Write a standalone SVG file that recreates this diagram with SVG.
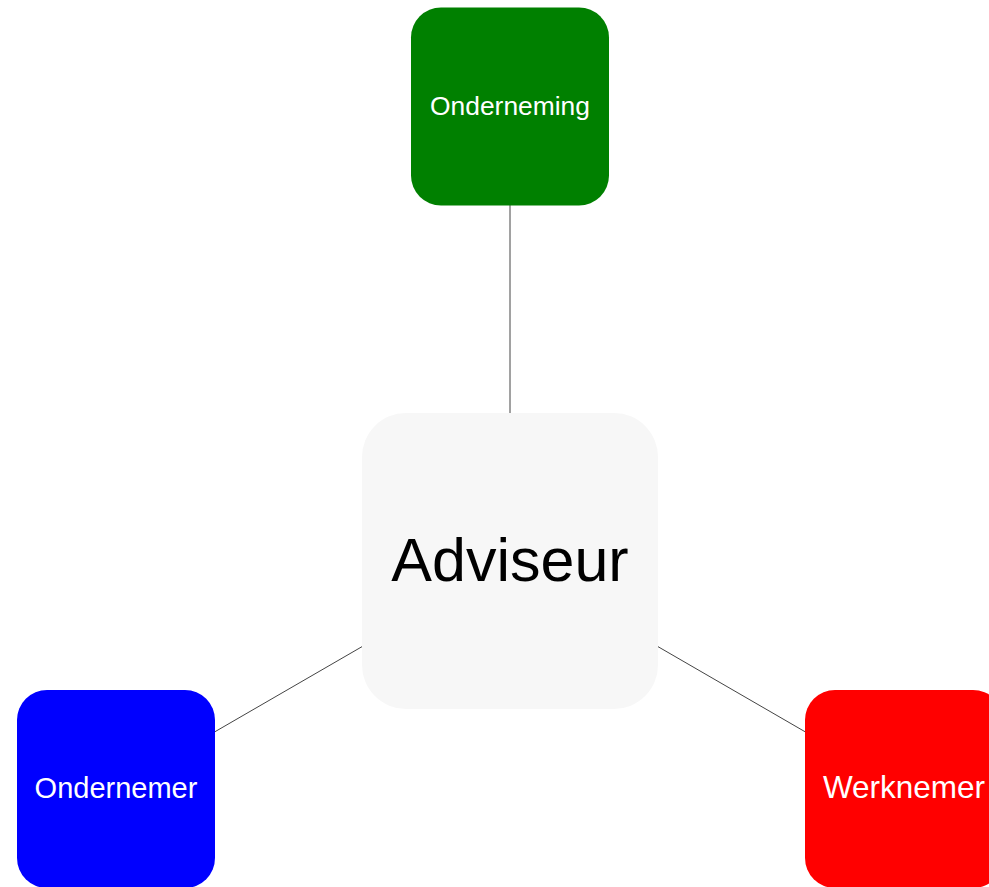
<svg xmlns="http://www.w3.org/2000/svg" width="989" height="887" viewBox="0 0 989 887">
<style>
.edge{stroke:#444444;stroke-width:1;fill:none}
.lbl{font-family:"Liberation Sans",Arial,sans-serif;text-anchor:middle}
.w{fill:#ffffff}
</style>
<rect width="989" height="887" fill="#ffffff"/>
<g id="connectors">
<line class="edge" x1="510" y1="561" x2="510" y2="106.5"/>
<line class="edge" x1="510" y1="561" x2="116" y2="789"/>
<line class="edge" x1="510" y1="561" x2="904" y2="789"/>
</g>
<g id="node-adviseur">
<rect x="362" y="413" width="296" height="296" rx="44" ry="44" fill="#f7f7f7"/>
<text class="lbl" x="510" y="581" font-size="61" fill="#000000">Adviseur</text>
</g>
<g id="node-onderneming">
<rect x="411" y="7.5" width="198" height="198" rx="30" ry="30" fill="#008000"/>
<text class="lbl w" x="510" y="114.5" font-size="26.4">Onderneming</text>
</g>
<g id="node-ondernemer">
<rect x="17" y="690" width="198" height="198" rx="30" ry="30" fill="#0000ff"/>
<text class="lbl w" x="116" y="798" font-size="29">Ondernemer</text>
</g>
<g id="node-werknemer">
<rect x="805" y="690" width="198" height="198" rx="30" ry="30" fill="#ff0000"/>
<text class="lbl w" x="904" y="798" font-size="31.5">Werknemer</text>
</g>
</svg>
